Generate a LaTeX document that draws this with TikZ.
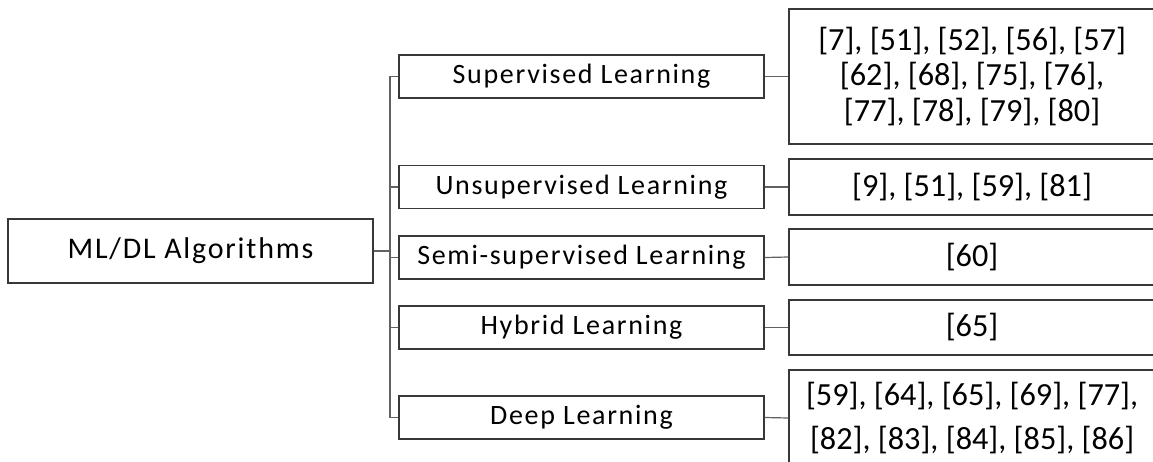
\documentclass[tikz,border=0pt]{standalone}
\usepackage{fontspec}
\setmainfont{Carlito}
\newfontfamily\spacedfont[LetterSpace=6]{Carlito}
\usetikzlibrary{calc}
% one pixel of the layout grid
\newlength{\px}
\setlength{\px}{0.75pt}
\tikzset{
  box/.style={draw=black!78, line width=0.9pt, fill=white, inner sep=0pt,
    minimum width=365\px, minimum height=43\px, align=center},
  rootbox/.style={box, minimum height=64\px},
  refbox/.style={box, minimum width=366\px},
  link/.style={draw=black!62, line width=0.9pt},
  midtext/.style={font=\spacedfont\fontsize{21}{26}\selectfont},
  roottext/.style={font=\spacedfont\fontsize{22.5}{26}\selectfont},
  reftext/.style={font=\fontsize{24.2}{26.3}\selectfont}
}
\begin{document}
\begin{tikzpicture}[x=0.75pt,y=-0.75pt]
  \useasboundingbox (0,0) rectangle (1153,461);
  \begin{scope}
    \clip (0,0) rectangle (1153,461);
    % root
    \node[rootbox, roottext] (root) at (190.5,251) {ML/DL Algorithms};
    % categories
    \node[box, midtext] (sup)  at (581.5,76.5)  {Supervised Learning};
    \node[box, midtext] (uns)  at (581.5,187)   {Unsupervised Learning};
    \node[box, midtext] (semi) at (581.5,257.5) {Semi-supervised Learning};
    \node[box, midtext] (hyb)  at (581.5,327.5) {Hybrid Learning};
    \node[box, midtext] (deep) at (581.5,417.5) {Deep Learning};
    % references (boxes run past the right edge)
    \node[refbox, reftext, minimum height=135\px] (rsup)  at (972,76.5)
      {[7], [51], [52], [56], [57]\\\relax
       [62], [68], [75], [76],\\\relax
       [77], [78], [79], [80]};
    \node[refbox, reftext, minimum height=56\px] (runs)  at (972,187)   {[9], [51], [59], [81]};
    \node[refbox, reftext, minimum height=56\px] (rsemi) at (972,257)   {[60]};
    \node[refbox, reftext, minimum height=55\px] (rhyb)  at (972,327.5) {[65]};
    \node[refbox, reftext, minimum height=96\px] (rdeep) at (972,418)
      {[59], [64], [65], [69], [77],\\[6pt]\relax
       [82], [83], [84], [85], [86]};
    % tree trunk
    \coordinate (tr) at (390,0);
    \draw[link] (root.east) -- (root.east -| tr);
    \draw[link] (sup.west) -- (sup.west -| tr) -- (deep.west -| tr) -- (deep.west);
    \foreach \m in {uns,semi,hyb}
      \draw[link] (\m.west) -- (\m.west -| tr);
    % category to references
    \foreach \m/\r in {sup/rsup,uns/runs,semi/rsemi,hyb/rhyb,deep/rdeep}
      \draw[link] (\m.east) -- (\r.west);
  \end{scope}
\end{tikzpicture}
\end{document}
